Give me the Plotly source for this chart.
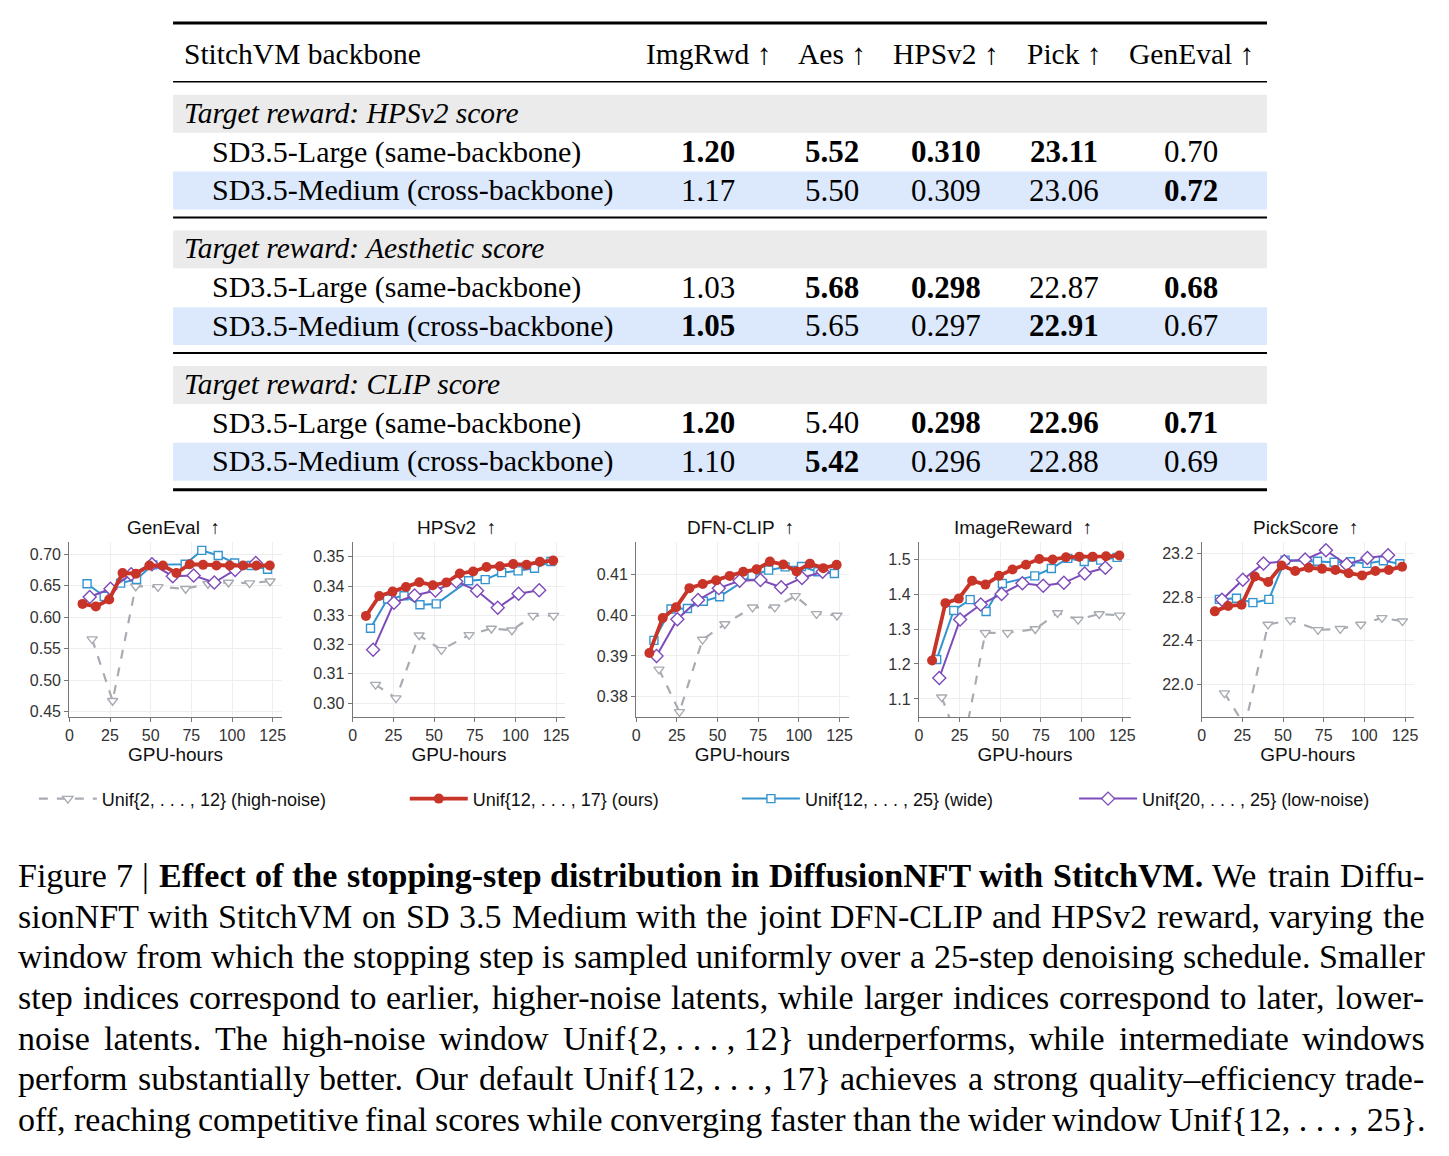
import plotly.graph_objects as go

W, H = 1449, 1156

# ---------------- data ----------------
metrics = ["GenEval", "HPSv2", "DFN-CLIP", "ImageReward", "PickScore"]

series_names = ["Unif{2, . . . , 12} (high-noise)", "Unif{12, . . . , 17} (ours)",
                "Unif{12, . . . , 25} (wide)", "Unif{20, . . . , 25} (low-noise)"]

gray_x = [14.0, 26.6, 40.8, 54.5, 71.5, 85.2, 97.8, 110.8, 123.4]
red_x = [8.1, 16.3, 24.5, 32.7, 40.9, 49.2, 57.5, 65.8, 74.0, 82.2, 90.4, 98.6, 106.8, 115.0, 123.2]
blue_x = [10.9, 21.4, 31.5, 41.3, 51.3, 71.2, 81.4, 91.5, 101.6, 111.7, 121.8]
purple_x = [12.5, 25.3, 38.0, 50.8, 63.6, 76.4, 89.1, 101.9, 114.6]

gray_vals = {
    "GenEval": [0.565, 0.467, 0.649, 0.648, 0.645, 0.653, 0.655, 0.654, 0.657],
    "HPSv2": [0.3063, 0.3017, 0.3232, 0.3182, 0.3233, 0.3255, 0.3249, 0.3299, 0.3299],
    "DFN-CLIP": [0.3867, 0.3763, 0.3940, 0.3978, 0.4019, 0.4019, 0.4047, 0.4003, 0.3999],
    "ImageReward": [1.105, 0.95, 1.289, 1.289, 1.300, 1.346, 1.327, 1.343, 1.339],
    "PickScore": [21.92, 21.62, 22.55, 22.59, 22.50, 22.51, 22.55, 22.61, 22.58],
}
red_vals = {
    "GenEval": [0.621, 0.617, 0.628, 0.670, 0.669, 0.682, 0.682, 0.670, 0.684, 0.683, 0.682, 0.682, 0.682, 0.682, 0.682],
    "HPSv2": [0.3298, 0.3366, 0.3381, 0.3397, 0.3413, 0.3403, 0.3412, 0.3443, 0.3450, 0.3465, 0.3468, 0.3475, 0.3473, 0.3483, 0.3487],
    "DFN-CLIP": [0.3907, 0.3993, 0.4019, 0.4066, 0.4076, 0.4085, 0.4096, 0.4106, 0.4112, 0.4131, 0.4124, 0.4107, 0.4126, 0.4115, 0.4123],
    "ImageReward": [1.210, 1.374, 1.387, 1.438, 1.427, 1.452, 1.470, 1.484, 1.500, 1.499, 1.505, 1.507, 1.507, 1.508, 1.510],
    "PickScore": [22.67, 22.72, 22.73, 22.99, 22.94, 23.09, 23.04, 23.07, 23.06, 23.05, 23.02, 23.00, 23.04, 23.05, 23.08],
}
blue_vals = {
    "GenEval": [0.653, 0.633, 0.654, 0.660, 0.683, 0.684, 0.706, 0.698, 0.686, 0.682, 0.676],
    "HPSv2": [0.3256, 0.3356, 0.3367, 0.3336, 0.3339, 0.3418, 0.3422, 0.3446, 0.3452, 0.3461, 0.3484],
    "DFN-CLIP": [0.3938, 0.4015, 0.4016, 0.4034, 0.4045, 0.4097, 0.4110, 0.4118, 0.4119, 0.4106, 0.4102],
    "ImageReward": [1.213, 1.353, 1.384, 1.350, 1.430, 1.452, 1.473, 1.502, 1.493, 1.497, 1.505],
    "PickScore": [22.78, 22.79, 22.75, 22.78, 23.14, 23.13, 23.12, 23.125, 23.11, 23.134, 23.107],
}
purple_vals = {
    "GenEval": [0.632, 0.645, 0.668, 0.684, 0.665, 0.666, 0.655, 0.675, 0.686],
    "HPSv2": [0.3182, 0.3343, 0.3368, 0.3385, 0.3416, 0.3384, 0.3326, 0.3374, 0.3386],
    "DFN-CLIP": [0.3900, 0.3990, 0.4037, 0.4066, 0.4084, 0.4086, 0.4068, 0.4091, 0.4106],
    "ImageReward": [1.160, 1.327, 1.370, 1.400, 1.431, 1.424, 1.432, 1.459, 1.475],
    "PickScore": [22.776, 22.96, 23.11, 23.13, 23.146, 23.23, 23.10, 23.16, 23.185],
}

y_ranges = {
    "GenEval": [0.441, 0.720], "HPSv2": [0.2952, 0.3552], "DFN-CLIP": [0.375, 0.418],
    "ImageReward": [1.048, 1.55], "PickScore": [21.70, 23.31],
}
y_ticks = {
    "GenEval": [0.45, 0.50, 0.55, 0.60, 0.65, 0.70],
    "HPSv2": [0.30, 0.31, 0.32, 0.33, 0.34, 0.35],
    "DFN-CLIP": [0.38, 0.39, 0.40, 0.41],
    "ImageReward": [1.1, 1.2, 1.3, 1.4, 1.5],
    "PickScore": [22.0, 22.4, 22.8, 23.2],
}
y_fmt = {"GenEval": ".2f", "HPSv2": ".2f", "DFN-CLIP": ".2f", "ImageReward": ".1f", "PickScore": ".1f"}
x_ticks = [0, 25, 50, 75, 100, 125]

table_columns = ["ImgRwd ↑", "Aes ↑", "HPSv2 ↑", "Pick ↑", "GenEval ↑"]
table_sections = ["Target reward: HPSv2 score", "Target reward: Aesthetic score", "Target reward: CLIP score"]
row_labels = ["SD3.5-Large (same-backbone)", "SD3.5-Medium (cross-backbone)"]
table_values = [
    [["1.20", "5.52", "0.310", "23.11", "0.70"], ["1.17", "5.50", "0.309", "23.06", "0.72"]],
    [["1.03", "5.68", "0.298", "22.87", "0.68"], ["1.05", "5.65", "0.297", "22.91", "0.67"]],
    [["1.20", "5.40", "0.298", "22.96", "0.71"], ["1.10", "5.42", "0.296", "22.88", "0.69"]],
]
table_bold = [
    [[1, 1, 1, 1, 0], [0, 0, 0, 0, 1]],
    [[0, 1, 1, 0, 1], [1, 0, 0, 1, 0]],
    [[1, 0, 1, 1, 1], [0, 1, 0, 0, 0]],
]

NB = "\u00a0"
caption_lines = [
    "Figure 7 | <b>Effect of the stopping-step distribution in DiffusionNFT with StitchVM.</b> We train Diffu-",
    "sionNFT with StitchVM on SD 3.5 Medium with the joint DFN-CLIP and HPSv2 reward, varying the",
    "window from which the stopping step is sampled uniformly over a 25-step denoising schedule. Smaller",
    "step indices correspond to earlier, higher-noise latents, while larger indices correspond to later, lower-",
    f"noise latents. The high-noise window Unif{{2,{NB}.{NB}.{NB}.{NB},{NB}12}} underperforms, while intermediate windows",
    f"perform substantially better. Our default Unif{{12,{NB}.{NB}.{NB}.{NB},{NB}17}} achieves a strong quality–efficiency trade-",
    f"off, reaching competitive final scores while converging faster than the wider window Unif{{12,{NB}.{NB}.{NB}.{NB},{NB}25}}.",
]

# ---------------- helpers ----------------
def px(x):
    return x / W

def py(y):
    return 1 - y / H

SANS = "Liberation Sans, Arial, sans-serif"
SERIF = "Liberation Serif, Times New Roman, serif"

GRAY = "rgb(168,172,178)"
RED = "rgb(200,52,40)"
BLUE = "rgb(52,148,208)"
PURPLE = "rgb(126,76,186)"

# Times (Liberation Serif) advance widths, per 1000 em, for text justification
_reg = dict(zip(" !\"#$%&'()*+,-./0123456789:;<=>?@",
                [250, 333, 408, 500, 500, 833, 778, 180, 333, 333, 500, 564, 250, 333, 250, 278] + [500] * 10 +
                [278, 278, 564, 564, 564, 444, 921]))
_reg.update(dict(zip("ABCDEFGHIJKLMNOPQRSTUVWXYZ",
                     [722, 667, 667, 722, 611, 556, 722, 722, 333, 389, 722, 611, 889, 722, 722, 556, 722, 667,
                      556, 611, 722, 722, 944, 722, 722, 611])))
_reg.update(dict(zip("abcdefghijklmnopqrstuvwxyz",
                     [444, 500, 444, 500, 444, 333, 500, 500, 278, 278, 500, 278, 778, 500, 500, 500, 500, 333,
                      389, 278, 500, 500, 722, 500, 500, 444])))
_reg.update({"{": 480, "}": 480, "|": 200, "–": 500, NB: 250})
_bold = dict(_reg)
_bold.update(dict(zip("ABCDEFGHIJKLMNOPQRSTUVWXYZ",
                      [722, 667, 722, 722, 667, 611, 778, 778, 389, 500, 778, 667, 944, 722, 778, 611, 778, 722,
                       556, 667, 722, 722, 1000, 722, 722, 667])))
_bold.update(dict(zip("abcdefghijklmnopqrstuvwxyz",
                      [500, 556, 444, 556, 444, 333, 500, 556, 278, 333, 556, 278, 833, 556, 500, 556, 556, 444,
                       389, 333, 556, 500, 722, 500, 500, 444])))
_bold.update({"-": 333, ".": 250})


def text_width(s, size, bold=False):
    tab = _bold if bold else _reg
    return sum(tab.get(ch, 500) for ch in s) * size / 1000.0


fig = go.Figure()

plot_lefts = [65.7, 350.7, 635.7, 920.0, 1204.3]
plot_w = 213.5
plot_top, plot_bot = 543, 719

legend_ids = ["legend", "legend2", "legend3", "legend4"]
legend_x = [30, 403, 737, 1076]

layout_axes = {}
annotations = []
for i, m in enumerate(metrics):
    xs = "x" if i == 0 else f"x{i+1}"
    ys = "y" if i == 0 else f"y{i+1}"
    xk = "xaxis" if i == 0 else f"xaxis{i+1}"
    yk = "yaxis" if i == 0 else f"yaxis{i+1}"
    first = (i == 0)
    fig.add_trace(go.Scatter(
        x=gray_x, y=gray_vals[m], xaxis=xs, yaxis=ys, mode="lines+markers",
        name=series_names[0], legend=legend_ids[0], showlegend=first,
        line=dict(color=GRAY, width=2.2, dash="dash"),
        marker=dict(symbol="triangle-down", size=9, color="white", line=dict(color=GRAY, width=1.4)),
    ))
    fig.add_trace(go.Scatter(
        x=blue_x, y=blue_vals[m], xaxis=xs, yaxis=ys, mode="lines+markers",
        name=series_names[2], legend=legend_ids[2], showlegend=first,
        line=dict(color=BLUE, width=2),
        marker=dict(symbol="square", size=8, color="white", line=dict(color=BLUE, width=1.4)),
    ))
    fig.add_trace(go.Scatter(
        x=purple_x, y=purple_vals[m], xaxis=xs, yaxis=ys, mode="lines+markers",
        name=series_names[3], legend=legend_ids[3], showlegend=first,
        line=dict(color=PURPLE, width=2),
        marker=dict(symbol="diamond", size=10, color="white", line=dict(color=PURPLE, width=1.4)),
    ))
    fig.add_trace(go.Scatter(
        x=red_x, y=red_vals[m], xaxis=xs, yaxis=ys, mode="lines+markers",
        name=series_names[1], legend=legend_ids[1], showlegend=first,
        line=dict(color=RED, width=3.8),
        marker=dict(symbol="circle", size=10, color=RED),
    ))
    l = plot_lefts[i]
    layout_axes[xk] = dict(
        domain=[px(l), px(l + plot_w)], anchor=ys, range=[0, 130.5],
        tickvals=x_ticks, showline=True, linecolor="#777", linewidth=1.3,
        ticks="outside", ticklen=4, tickcolor="#777",
        showgrid=True, gridcolor="#eeeeee", zeroline=False,
        tickfont=dict(family=SANS, size=16, color="#333"),
        title=dict(text="GPU-hours", font=dict(family=SANS, size=19, color="#111"), standoff=2),
    )
    layout_axes[yk] = dict(
        domain=[py(plot_bot), py(plot_top)], anchor=xs, range=y_ranges[m],
        tickvals=y_ticks[m], tickformat=y_fmt[m], showline=True, linecolor="#777", linewidth=1.3,
        ticks="outside", ticklen=4, tickcolor="#777",
        showgrid=True, gridcolor="#eeeeee", zeroline=False,
        tickfont=dict(family=SANS, size=16, color="#333"),
    )
    annotations.append(dict(
        x=px(l + plot_w / 2 - 2), y=py(529), xref="paper", yref="paper",
        text=f"{m}  ↑", showarrow=False, xanchor="center", yanchor="middle",
        font=dict(family=SANS, size=19, color="#111"),
    ))

legends = {}
for lid, lx in zip(legend_ids, legend_x):
    legends[lid] = dict(orientation="h", x=px(lx), y=py(801), xanchor="left", yanchor="middle",
                        font=dict(family=SANS, size=18, color="#111"), itemwidth=58,
                        bgcolor="rgba(0,0,0,0)")

# ---------------- table ----------------
shapes = []
TL, TR = 170, 1270
band_gray = "#ebebeb"
band_blue = "#dce8fb"

def hline(y, w):
    shapes.append(dict(type="line", xref="paper", yref="paper", x0=px(TL), x1=px(TR),
                       y0=py(y), y1=py(y), line=dict(color="black", width=w)))

def rect(y0, y1, c):
    shapes.append(dict(type="rect", xref="paper", yref="paper", x0=px(TL), x1=px(TR),
                       y0=py(y1), y1=py(y0), fillcolor=c, line=dict(width=0), layer="below"))

hline(23, 3)
hline(82, 1.6)
col_centers = [708, 833, 947, 1066, 1194]

def txt(x, y, s, anchor="left", size=29.5, bold=False, italic=False):
    if bold:
        s = f"<b>{s}</b>"
    if italic:
        s = f"<i>{s}</i>"
    annotations.append(dict(x=px(x), y=py(y), xref="paper", yref="paper", text=s, showarrow=False,
                            xanchor=anchor, yanchor="middle", borderpad=0,
                            font=dict(family=SERIF, size=size, color="black")))

txt(180, 54, "StitchVM backbone", size=29.5)
for c, lab in zip(col_centers, table_columns):
    txt(c, 54, lab, anchor="center", size=29.5)

sec_tops = [95, 231, 367]
for si, (sec, top) in enumerate(zip(table_sections, sec_tops)):
    rect(top, top + 38, band_gray)
    rect(top + 77, top + 115, band_blue)
    txt(180, top + 18, sec, italic=True, size=29.5)
    for ri in range(2):
        yc = top + 57 + ri * 38.5
        txt(208, yc, row_labels[ri], size=30)
        for ci, c in enumerate(col_centers):
            txt(c, yc, table_values[si][ri][ci], anchor="center", size=31,
                bold=bool(table_bold[si][ri][ci]))
    if si < 2:
        hline(top + 123, 2)
hline(491, 3)

# ---------------- caption (justified word by word) ----------------
CAP_SIZE = 34
cap_left, cap_right = 13, 1427
cap_y0 = 878
for k, line in enumerate(caption_lines):
    words = []
    bold = False
    for tok in line.split(" "):
        wb = bold
        if tok.startswith("<b>"):
            tok = tok[3:]
            wb = True
            bold = True
        if tok.endswith("</b>"):
            tok = tok[:-4]
            bold = False
        words.append((tok, wb))
    widths = [text_width(w, CAP_SIZE, b) for w, b in words]
    gap = (cap_right - cap_left - sum(widths)) / (len(words) - 1)
    xcur = cap_left
    for (w, b), wd in zip(words, widths):
        annotations.append(dict(x=px(xcur), y=py(cap_y0 + k * 40.7), xref="paper", yref="paper",
                                text=f"<b>{w}</b>" if b else w, showarrow=False,
                                xanchor="left", yanchor="middle", borderpad=0,
                                font=dict(family=SERIF, size=CAP_SIZE, color="black")))
        xcur += wd + gap

fig.update_layout(
    width=W, height=H, margin=dict(l=0, r=0, t=0, b=0),
    paper_bgcolor="white", plot_bgcolor="white",
    shapes=shapes, annotations=annotations,
    **legends,
    **layout_axes,
)

fig.write_html("out.html")
